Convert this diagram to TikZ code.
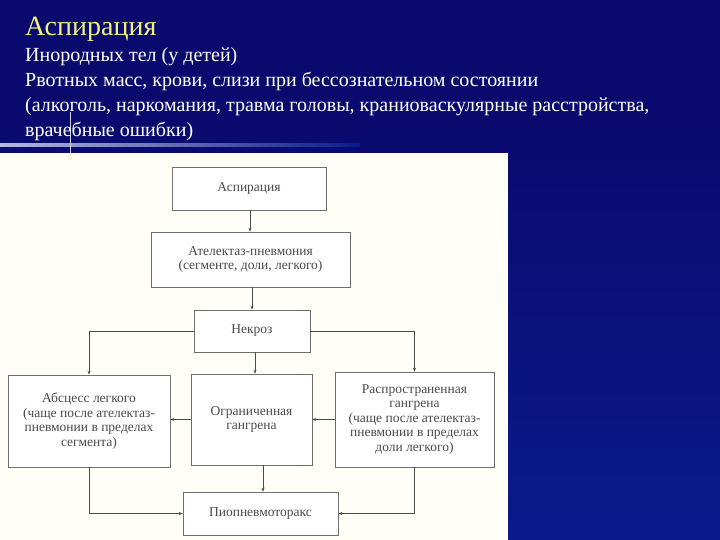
\documentclass[tikz,border=0pt]{standalone}
\usepackage{fontspec}
\setmainfont{Liberation Serif}
\usetikzlibrary{arrows.meta}
\definecolor{navy}{HTML}{0A0A6E}
\definecolor{navyb}{HTML}{0A1A8C}
\definecolor{ttl}{HTML}{F2F27A}
\definecolor{ink}{HTML}{4A4A4A}
\tikzset{
 bx/.style={draw=ink!80,line width=0.6pt,fill=white,text=ink,align=center,font=\fontsize{13.5}{14.5}\selectfont,inner sep=1pt},
 ar/.style={draw=ink,line width=0.6pt,-{Stealth[length=4pt,width=3pt]}},
 ln/.style={text=white,anchor=base west,font=\fontsize{20}{22}\selectfont,inner sep=0pt}
}
\begin{document}
\begin{tikzpicture}[x=1pt,y=-1pt]
\useasboundingbox (0,0) rectangle (720,540);
\fill[navy] (0,0) rectangle (720,540);
\shade[top color=navy,bottom color=navyb] (0,120) rectangle (720,540);
\shade[left color=white!70!navyb,right color=navyb] (0,144) rectangle (360,147);
\draw[white!80!navyb,line width=1pt] (70,112) -- (70,155);
\fill[white!97!yellow] (0,153) rectangle (508,540);
\node[anchor=base west,text=ttl,inner sep=0pt,font=\fontsize{28}{30}\selectfont] (t) at (25,36) {Аспирация};
\node[ln] (l1) at (25,62) {Инородных тел (у детей)};
\node[ln] (l2) at (25,87) {Рвотных масс, крови, слизи при бессознательном состоянии};
\node[ln] (l3) at (25,112) {(алкоголь, наркомания, травма головы, краниоваскулярные расстройства,};
\node[ln] (l4) at (25,137) {врачебные ошибки)};
\node[bx,minimum width=154pt,minimum height=43pt] (a) at (249,188.5) {Аспирация};
\node[bx,minimum width=199pt,minimum height=55pt] (b) at (250.5,259.5) {Ателектаз-пневмония\\(сегменте, доли, легкого)};
\node[bx,minimum width=116pt,minimum height=42pt] (n) at (252,331) {Некроз};
\node[bx,minimum width=162pt,minimum height=92pt] (ab) at (89,421) {Абсцесс легкого\\(чаще после ателектаз-\\пневмонии в пределах\\сегмента)};
\node[bx,minimum width=121pt,minimum height=91pt] (og) at (251.5,419.5) {Ограниченная\\гангрена};
\node[bx,minimum width=159pt,minimum height=95pt] (rg) at (414.5,419.5) {Распространенная\\гангрена\\(чаще после ателектаз-\\пневмонии в пределах\\доли легкого)};
\node[bx,minimum width=155pt,minimum height=43pt] (p) at (260.5,513.5) {Пиопневмоторакс};
\draw[ar] (a.south-|250,0) -- (b.north-|250,0);
\draw[ar] (b.south-|252,0) -- (n.north-|252,0);
\draw[ar] (n.south-|255,0) -- (og.north-|255,0);
\draw[ar] (n.west) -| (ab.north);
\draw[ar] (n.east) -| (rg.north);
\draw[ar] (og.west) -- (ab.east|-og.west);
\draw[ar] (rg.west) -- (og.east|-rg.west);
\draw[ar] (og.south-|263,0) -- (p.north-|263,0);
\draw[ar] (ab.south) |- (p.west);
\draw[ar] (rg.south) |- (p.east);
\end{tikzpicture}
\end{document}
